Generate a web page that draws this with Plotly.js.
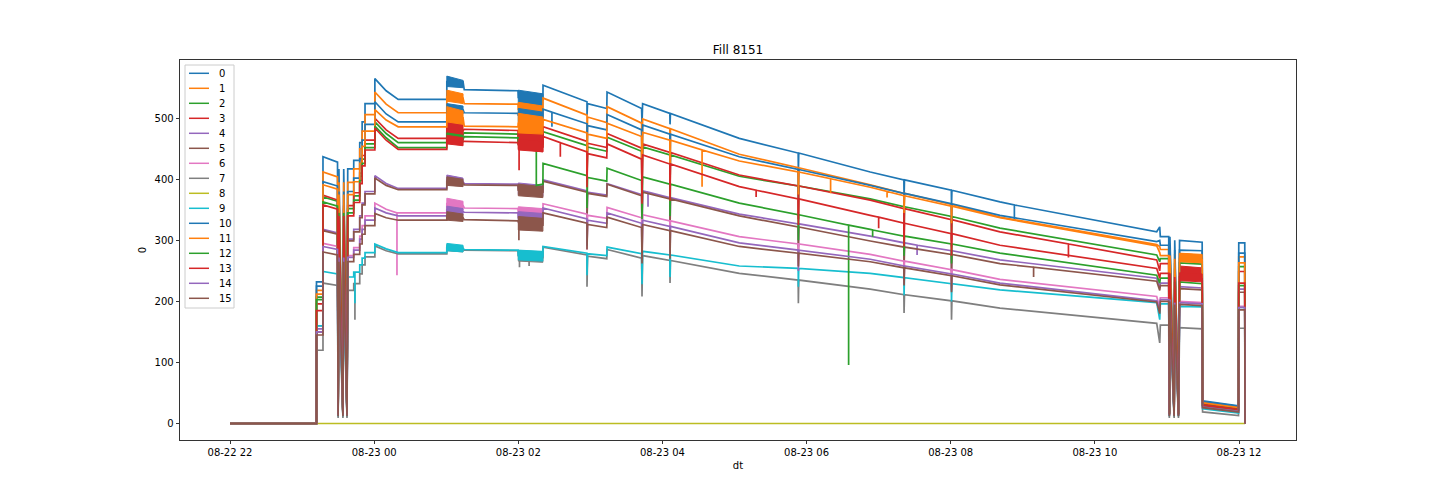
<!DOCTYPE html>
<html><head><meta charset="utf-8">
<script src="https://cdn.plot.ly/plotly-3.0.1.min.js"></script>
<style>html,body{margin:0;padding:0;background:#fff;} #chart{width:1440px;height:504px;}</style>
</head><body><div id="chart"></div>
<script>
// ---------- DATA ----------
const times = [
"2022-08-22 22:00:00","2022-08-22 23:12:00","2022-08-22 23:12:00","2022-08-22 23:17:24","2022-08-22 23:17:24","2022-08-22 23:29:30",
"2022-08-22 23:30:00","2022-08-22 23:30:40","2022-08-22 23:34:00","2022-08-22 23:34:40","2022-08-22 23:37:24","2022-08-22 23:38:00","2022-08-22 23:43:00",
"2022-08-22 23:43:00","2022-08-22 23:48:00","2022-08-22 23:48:00","2022-08-22 23:50:00","2022-08-22 23:50:00","2022-08-22 23:52:24","2022-08-22 23:52:24","2022-08-23 00:00:36",
"2022-08-23 00:00:36","2022-08-23 00:10:00","2022-08-23 00:20:00","2022-08-23 01:00:30",
"2022-08-23 01:00:30","2022-08-23 01:14:00","2022-08-23 01:15:00","2022-08-23 01:59:48",
"2022-08-23 02:00:00","2022-08-23 02:15:00","2022-08-23 02:15:00","2022-08-23 02:20:30",
"2022-08-23 02:20:36",
"2022-08-23 02:57:12","2022-08-23 02:57:12","2022-08-23 02:57:40",
"2022-08-23 03:13:40","2022-08-23 03:13:54",
"2022-08-23 03:42:40","2022-08-23 03:43:00","2022-08-23 03:43:30",
"2022-08-23 04:06:10","2022-08-23 04:06:20","2022-08-23 04:06:40",
"2022-08-23 05:04:00",
"2022-08-23 05:53:00","2022-08-23 05:53:10","2022-08-23 05:53:30",
"2022-08-23 06:53:00",
"2022-08-23 07:21:00","2022-08-23 07:21:10","2022-08-23 07:21:30",
"2022-08-23 08:00:30","2022-08-23 08:00:40","2022-08-23 08:01:00",
"2022-08-23 08:41:00",
"2022-08-23 10:51:30",
"2022-08-23 10:54:00",
"2022-08-23 10:54:30","2022-08-23 11:01:30",
"2022-08-23 11:02:00","2022-08-23 11:02:30",
"2022-08-23 11:06:00","2022-08-23 11:06:30",
"2022-08-23 11:09:36","2022-08-23 11:10:30","2022-08-23 11:29:20",
"2022-08-23 11:29:40","2022-08-23 11:59:36",
"2022-08-23 11:59:48","2022-08-23 12:04:48",
"2022-08-23 12:05:00"
];

const s0 = [0,0, 232,232, 437,428, 18,417, 18,417, 18,417,417, 431,431, 460,460, 494,494, 524,524, 565,545,531,531, 560,560,547,545, 534,530,530,530, 554, 527,505,524, 516,543, 516,490,524, 508,490,508, 467, 443,412,443, 412, 399,370,399, 382,355,382, 363, 314, 322, 306,306, 18,306, 18,300, 18,300,297, 37,29, 296,296, 0];
const s1 = [0,0, 218,218, 412,404, 17,395, 17,395, 17,395,395, 417,417, 450,450, 479,479, 506,506, 543,523,509,509, 535,533,524,523, 515,513,513,512, 533, 505,439,502, 493,519, 492,420,499, 483,420,483, 441, 419,385,419, 391, 377,350,377, 359,330,359, 338, 293, 290, 285,285, 17,285, 17,278, 17,278,275, 35,27, 273,273, 0];
const s2 = [0,0, 207,207, 371,364, 16,352, 16,352, 16,352,352, 373,373, 405,405, 433,433, 458,458, 494,475,460,460, 477,474,476,474, 461,459,459,458, 478, 455,396,453, 446,469, 446,370,453, 440,380,440, 405, 389,340,389, 368, 355,310,355, 339,300,339, 320, 276, 265, 270,270, 16,270, 16,263, 16,263,261, 33,25, 257,257, 0];
const s3 = [0,0, 196,196, 374,366, 15,357, 15,357, 15,357,357, 378,378, 410,410, 439,439, 464,464, 500,481,467,467, 486,480,482,480, 466,463,463,461, 486, 462,402,459, 452,475, 451,370,458, 444,385,444, 407, 389,335,389, 366, 352,300,352, 334,290,334, 314, 268, 250, 262,262, 15,262, 15,254, 15,254,251, 32,24, 249,249, 0];
const s4 = [0,0, 155,155, 318,312, 14,302, 14,302, 14,302,302, 318,318, 340,340, 361,361, 380,380, 406,393,385,385, 400,396,393,392, 384,382,382,381, 399, 381,331,379, 374,393, 375,315,381, 370,320,370, 343, 327,290,327, 307, 296,262,296, 283,250,283, 268, 238, 222, 230,230, 14,230, 14,224, 14,224,222, 29,22, 220,220, 0];
const s5 = [0,0, 150,150, 316,310, 13,299, 13,299, 13,299,299, 314,314, 337,337, 358,358, 376,376, 402,390,383,383, 397,394,391,390, 382,380,380,379, 397, 379,330,377, 372,392, 373,312,379, 368,316,368, 340, 322,280,322, 299, 289,252,289, 277,242,277, 262, 233, 218, 226,226, 13,226, 13,221, 13,221,219, 28,21, 215,215, 0];
const s6 = [0,0, 160,160, 295,290, 13,275, 13,275, 13,275,275, 288,288, 307,307, 324,324, 340,340, 361,351,345,345, 360,357,353,352, 346,344,344,344, 360, 343,285,341, 336,354, 337,275,342, 332,285,332, 306, 294,258,294, 277, 266,235,266, 252,225,252, 236, 208, 190, 206,206, 13,206, 13,200, 13,200,198, 26,19, 192,192, 0];
const s7 = [0,0, 120,120, 230,226, 9,218, 9,218, 9,218,218, 229,229, 245,245, 260,260, 273,273, 291,283,278,278, 288,285,284,283, 275,273,273,272, 289, 276,224,274, 270,285, 271,208,275, 267,230,267, 246, 235,197,235, 220, 211,181,211, 201,170,201, 189, 164, 132, 161,161, 9,161, 9,157, 9,157,155, 19,13, 156,156, 0];
const s8 = [0,0, 0,0, 0,0, 0,0, 0,0, 0,0,0, 0,0, 0,0, 0,0, 0,0, 0,0,0,0, 0,0,0,0, 0,0,0,0, 0, 0,0,0, 0,0, 0,0,0, 0,0,0, 0, 0,0,0, 0, 0,0,0, 0,0,0, 0, 0, 0, 0,0, 0,0, 0,0, 0,0,0, 0,0, 0,0, 0];
const s9 = [0,0, 160,160, 249,245, 12,240, 12,240, 12,240,240, 248,248, 260,260, 271,271, 280,280, 294,286,280,280, 289,287,285,284, 276,274,274,274, 290, 279,243,278, 275,289, 278,228,282, 276,240,276, 258, 254,224,254, 246, 239,210,239, 229,200,229, 219, 198, 170, 196,196, 12,196, 12,192, 12,192,191, 24,17, 190,190, 0];
const s10 = [0,0, 225,225, 396,389, 17,380, 17,380, 17,380,380, 402,402, 434,434, 464,464, 490,490, 527,507,494,494, 517,514,509,508, 505,501,501,501, 515, 491,427,488, 481,506, 481,410,489, 474,410,474, 437, 416,380,416, 390, 377,348,377, 360,332,360, 341, 298, 300, 292,292, 17,292, 17,284, 17,284,283, 36,28, 279,279, 0];
const s11 = [0,0, 212,212, 391,384, 16,375, 16,375, 16,375,375, 396,396, 426,426, 454,454, 479,479, 514,497,486,486, 506,501,487,486, 492,488,488,488, 498, 476,414,474, 467,492, 470,400,477, 464,400,464, 430, 412,375,412, 387, 373,345,373, 356,328,356, 337, 291, 280, 275,275, 16,275, 16,270, 16,270,268, 34,26, 263,263, 0];
const s12 = [0,0, 203,203, 363,356, 15,345, 15,345, 15,345,345, 366,366, 398,398, 426,426, 452,452, 487,468,452,452, 469,466,470,468, 458,460,390,392, 426, 406,353,403, 397,418, 398,335,404, 392,340,392, 361, 342,300,342, 318, 307,275,307, 294,262,294, 279, 243, 230, 238,238, 15,238, 15,232, 15,232,229, 30,23, 226,226, 0];
const s13 = [0,0, 185,185, 358,351, 15,340, 15,340, 15,340,340, 362,362, 393,393, 422,422, 448,448, 484,464,449,449, 465,462,462,460, 457,454,454,453, 470, 445,387,442, 435,458, 433,360,440, 425,365,425, 388, 368,325,368, 341, 328,290,328, 311,275,311, 292, 254, 238, 246,246, 15,246, 15,240, 15,240,237, 30,23, 230,230, 0];
const s14 = [0,0, 150,150, 290,285, 13,272, 13,272, 13,272,272, 284,284, 302,302, 318,318, 333,333, 353,345,340,340, 350,347,346,345, 337,335,335,335, 353, 335,291,333, 328,345, 328,270,333, 323,278,323, 296, 284,250,284, 269, 258,228,258, 245,218,245, 230, 201, 185, 203,203, 13,203, 13,198, 13,198,196, 27,20, 190,190, 0];
const s15 = [0,0, 145,145, 281,276, 12,265, 12,265, 12,265,265, 277,277, 294,294, 310,310, 324,324, 344,337,333,333, 340,337,334,332, 328,325,325,325, 345, 328,285,326, 321,338, 321,262,326, 316,270,316, 290, 279,257,279, 265, 255,226,255, 242,215,242, 227, 199, 180, 200,200, 12,200, 12,195, 12,195,193, 26,19, 186,186, 0];

// individual spikes: [time, level, spike bottom]
const spikes0 = [["2022-08-23 08:53:00", 358, 333]];
const spikes3 = [["2022-08-23 02:00:40", 465, 415], ["2022-08-23 09:38:00", 294, 272]];
const spikes4 = [["2022-08-23 03:48:00", 379, 355], ["2022-08-23 07:32:00", 292, 276]];
const spikes5 = [["2022-08-23 09:09:00", 256, 240]];
const spikes6 = [["2022-08-23 00:19:00", 345, 243]];
const spikes7 = [["2022-08-22 23:44:00", 229, 170], ["2022-08-23 02:01:00", 275, 256], ["2022-08-23 02:09:00", 274, 258]];
const spikes9 = [["2022-08-22 23:44:00", 248, 197]];
const spikes10 = [["2022-08-23 02:28:00", 510, 486]];
const spikes11 = [["2022-08-23 04:33:00", 448, 388], ["2022-08-23 06:20:00", 401, 377], ["2022-08-23 07:07:00", 380, 370]];
const spikes12 = [["2022-08-23 06:35:00", 325, 96], ["2022-08-23 06:55:00", 317, 306]];
const spikes13 = [["2022-08-23 02:35:00", 460, 437], ["2022-08-23 05:18:00", 382, 371], ["2022-08-23 07:00:00", 338, 320]];
const spikes15 = [["2022-08-23 02:00:30", 328, 300]];

// noisy bands: values at band start / end (null = no band)
const band1Times = ["2022-08-23 01:00:30", "2022-08-23 01:14:00"];
const band1HiStart = [569, 546, 484, 500, 407, 404, 369, 293, null, 295, 524, 519, 476, 472, 356, 347];
const band1HiEnd   = [562, 540, 480, 494, 402, 400, 364, 290, null, 292, 520, 512, 472, 468, 352, 343];
const band1LoStart = [552, 528, 470, 472, 393, 390, 352, 283, null, 283, 510, 494, 462, 458, 344, 333];
const band1LoEnd   = [550, 524, 468, 465, 390, 388, 350, 281, null, 281, 507, 490, 460, 455, 342, 331];
const band2Times = ["2022-08-23 02:00:00", "2022-08-23 02:20:30"];
const band2HiStart = [546, 526, 466, 481, 394, 392, 355, 283, null, 284, 516, 508, null, 466, 347, 339];
const band2HiEnd   = [540, 520, 463, 476, 390, 388, 352, 281, null, 282, 510, 502, null, 462, 344, 336];
const band2LoStart = [522, 506, 455, 450, 375, 373, 338, 266, null, 268, 494, 476, null, 448, 328, 317];
const band2LoEnd   = [519, 503, 452, 445, 372, 370, 336, 264, null, 266, 492, 474, null, 445, 326, 315];
const band3Times = ["2022-08-23 11:10:30", "2022-08-23 11:29:20"];
const band3HiStart = [null, null, null, 258, null, null, null, null, null, null, null, 279, null, 247, null, null];
const band3HiEnd   = [null, null, null, 255, null, null, null, null, null, null, null, 277, null, 245, null, null];
const band3LoStart = [null, null, null, 246, null, null, null, null, null, null, null, 265, null, 234, null, null];
const band3LoEnd   = [null, null, null, 243, null, null, null, null, null, null, null, 263, null, 232, null, null];

const seriesNames = ["0","1","2","3","4","5","6","7","8","9","10","11","12","13","14","15"];
const colors = ["#1f77b4","#ff7f0e","#2ca02c","#d62728","#9467bd","#8c564b","#e377c2","#7f7f7f","#bcbd22","#17becf",
                "#1f77b4","#ff7f0e","#2ca02c","#d62728","#9467bd","#8c564b"];
const xTickVals = ["2022-08-22 22:00","2022-08-23 00:00","2022-08-23 02:00","2022-08-23 04:00","2022-08-23 06:00","2022-08-23 08:00","2022-08-23 10:00","2022-08-23 12:00"];
const xTickText = ["08-22 22","08-23 00","08-23 02","08-23 04","08-23 06","08-23 08","08-23 10","08-23 12"];
const yTickVals = [0, 100, 200, 300, 400, 500];

// ---------- BUILD ----------
const values = [s0,s1,s2,s3,s4,s5,s6,s7,s8,s9,s10,s11,s12,s13,s14,s15];
const spikeSets = [spikes0,[],[],spikes3,spikes4,spikes5,spikes6,spikes7,[],spikes9,spikes10,spikes11,spikes12,spikes13,[],spikes15];
const bands = [
  [band1Times, band1HiStart, band1HiEnd, band1LoStart, band1LoEnd],
  [band2Times, band2HiStart, band2HiEnd, band2LoStart, band2LoEnd],
  [band3Times, band3HiStart, band3HiEnd, band3LoStart, band3LoEnd]
];

function toMs(s){ return Date.parse(s.replace(' ','T')); }
function withSpikes(vals, sp){
  const xs = times.slice(), ys = vals.slice();
  sp.forEach(([t, top, low]) => {
    const tm = toMs(t);
    let i = xs.findIndex(x => toMs(x) > tm);
    if (i < 0) i = xs.length;
    xs.splice(i, 0, t, t, t);
    ys.splice(i, 0, top, low, top);
  });
  return {xs, ys};
}

const traces = [];
values.forEach((vals, s) => {
  const d = withSpikes(vals, spikeSets[s]);
  traces.push({type:'scatter', mode:'lines', x:d.xs, y:d.ys, name:seriesNames[s],
    line:{color:colors[s], width:1.7}, hoverinfo:'skip'});
  bands.forEach(([bt, hs, he, ls, le]) => {
    if (hs[s] === null) return;
    traces.push({type:'scatter', mode:'lines', x:[bt[0], bt[1], bt[1], bt[0], bt[0]],
      y:[hs[s], he[s], le[s], ls[s], hs[s]], fill:'toself', fillcolor:colors[s],
      line:{color:colors[s], width:1}, hoverinfo:'skip', showlegend:false});
  });
});

const L = 180, R = 1296, T = 60, B = 440;
const px = x => (x - L) / (R - L);
const py = y => (B - y) / (B - T);

const shapes = [{type:'rect', xref:'paper', yref:'paper', x0:px(185), x1:px(234), y0:py(65), y1:py(308),
  fillcolor:'rgba(255,255,255,0.9)', line:{color:'#cccccc', width:1}, layer:'above'}];
const annotations = [];
seriesNames.forEach((n, i) => {
  const yy = 73.3 + i * 15.0;
  shapes.push({type:'line', xref:'paper', yref:'paper', x0:px(189), x1:px(209), y0:py(yy), y1:py(yy),
    line:{color:colors[i], width:1.5}, layer:'above'});
  annotations.push({xref:'paper', yref:'paper', x:px(217), y:py(yy), xanchor:'left', yanchor:'middle',
    text:n, showarrow:false, font:{size:10, color:'black', family:'DejaVu Sans'}});
});

const layout = {
  width:1440, height:504,
  margin:{l:180, r:144, t:60, b:64, pad:0},
  paper_bgcolor:'white', plot_bgcolor:'white',
  showlegend:false,
  font:{family:'DejaVu Sans', size:10, color:'black'},
  title:{text:'Fill 8151', font:{size:12, color:'black'}, x:0.5, xref:'paper', xanchor:'center',
         y:1 - 50/504, yref:'container', yanchor:'middle'},
  xaxis:{type:'date', range:['2022-08-22 21:18:22','2022-08-23 12:47:27'],
    tickmode:'array', tickvals:xTickVals, ticktext:xTickText,
    ticks:'outside', ticklen:3.5, tickwidth:0.8, tickcolor:'black',
    showline:true, linecolor:'black', linewidth:0.8, mirror:true,
    showgrid:false, zeroline:false, tickfont:{size:10},
    title:{text:'dt', standoff:4, font:{size:10}}},
  yaxis:{range:[-27, 595.4], tickmode:'array', tickvals:yTickVals,
    ticks:'outside', ticklen:3.5, tickwidth:0.8, tickcolor:'black',
    showline:true, linecolor:'black', linewidth:0.8, mirror:true,
    showgrid:false, zeroline:false, tickfont:{size:10},
    title:{text:'0', standoff:6, font:{size:10}}},
  shapes:shapes, annotations:annotations
};

Plotly.newPlot('chart', traces, layout, {staticPlot:true, displayModeBar:false});
</script>
</body></html>
